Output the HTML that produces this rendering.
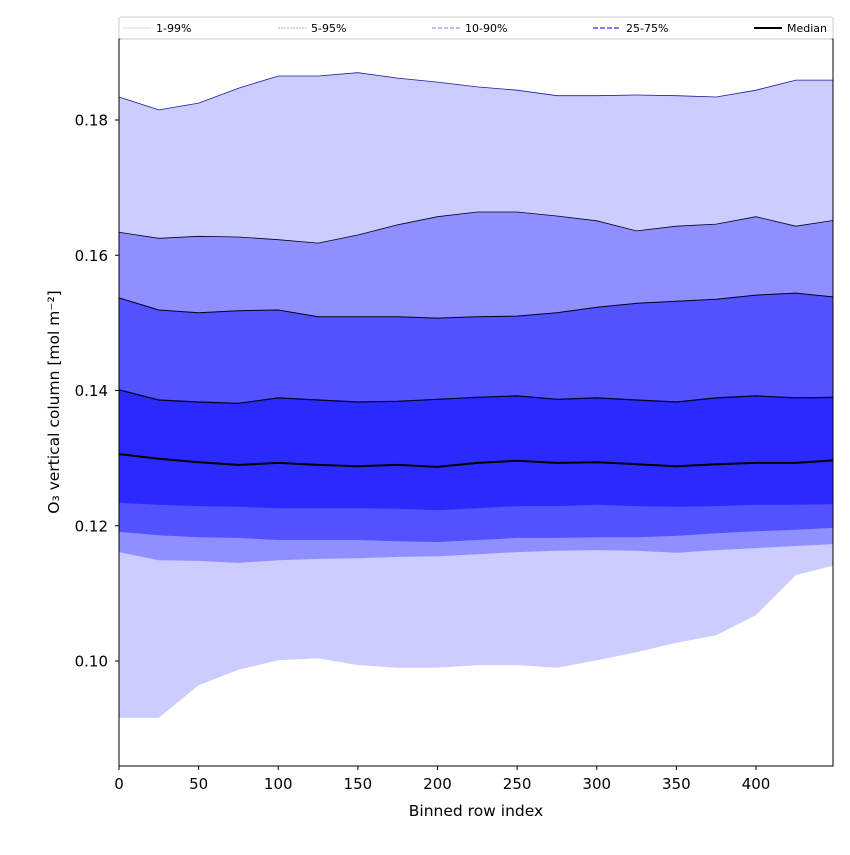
<!DOCTYPE html>
<html><head><meta charset="utf-8"><style>
body{margin:0;background:#fff;}
svg text{font-family:"DejaVu Sans","Liberation Sans",sans-serif;}
</style></head><body>
<svg id="chart" width="850" height="850" xmlns="http://www.w3.org/2000/svg">
<defs><clipPath id="clip"><rect x="119" y="39" width="714" height="727"/></clipPath></defs>
<rect width="850" height="850" fill="#fff"/>
<g id="bands" clip-path="url(#clip)"></g>
<g id="axes"></g>
</svg>
<script>
const xs=[0,25,50,75,100,125,150,175,200,225,250,275,300,325,350,375,400,425,450];
const p1=[0.0916,0.0916,0.0964,0.0987,0.1001,0.1004,0.0994,0.0990,0.0990,0.0994,0.0994,0.0990,0.1001,0.1013,0.1027,0.1038,0.1068,0.1127,0.1142];
const p99=[0.1834,0.1815,0.1825,0.1847,0.1865,0.1865,0.1870,0.1862,0.1856,0.1849,0.1844,0.1836,0.1836,0.1837,0.1836,0.1834,0.1844,0.1859,0.1859];
const p5=[0.1161,0.1149,0.1148,0.1145,0.1149,0.1151,0.1152,0.1154,0.1155,0.1158,0.1161,0.1163,0.1164,0.1163,0.1160,0.1164,0.1167,0.1170,0.1173];
const p95=[0.1634,0.1625,0.1628,0.1627,0.1623,0.1618,0.1630,0.1645,0.1657,0.1664,0.1664,0.1658,0.1651,0.1636,0.1643,0.1646,0.1657,0.1643,0.1652];
const p10=[0.1191,0.1186,0.1183,0.1182,0.1179,0.1179,0.1179,0.1177,0.1176,0.1179,0.1182,0.1182,0.1183,0.1183,0.1185,0.1189,0.1192,0.1194,0.1197];
const p90=[0.1537,0.1519,0.1515,0.1518,0.1519,0.1509,0.1509,0.1509,0.1507,0.1509,0.1510,0.1515,0.1523,0.1529,0.1532,0.1535,0.1541,0.1544,0.1538];
const p25=[0.1234,0.1231,0.1229,0.1228,0.1226,0.1226,0.1226,0.1225,0.1223,0.1226,0.1229,0.1229,0.1231,0.1229,0.1228,0.1229,0.1231,0.1231,0.1232];
const p75=[0.1401,0.1386,0.1383,0.1381,0.1389,0.1386,0.1383,0.1384,0.1387,0.1390,0.1392,0.1387,0.1389,0.1386,0.1383,0.1389,0.1392,0.1389,0.1390];
const median=[0.1306,0.1299,0.1294,0.1290,0.1293,0.1290,0.1288,0.1290,0.1287,0.1293,0.1296,0.1293,0.1294,0.1291,0.1288,0.1291,0.1293,0.1293,0.1297];
const xTicks=[0,50,100,150,200,250,300,350,400];
const yTicks=[0.10,0.12,0.14,0.16,0.18];

const NS="http://www.w3.org/2000/svg";
const X=v=>119+(v-0)*(756-119)/400;
const Y=v=>661-(v-0.10)*(661-120)/0.08;
function mk(tag,attrs,parent){const e=document.createElementNS(NS,tag);for(const k in attrs)e.setAttribute(k,attrs[k]);parent.appendChild(e);return e;}
const bands=document.getElementById('bands'),axes=document.getElementById('axes');
function linePts(arr){return xs.map((x,i)=>X(x).toFixed(1)+','+Y(arr[i]).toFixed(1));}
function band(lo,hi,fill,name){
  const pts=linePts(hi).concat(linePts(lo).reverse());
  const p=mk('polygon',{points:pts.join(' '),fill:fill},bands);
  
  
}
band(p1,p99,'#ccccff','band-1-99');
band(p5,p95,'#8f8fff','band-5-95');
band(p10,p90,'#5252ff','band-10-90');
band(p25,p75,'#2a2aff','band-25-75');
function line(arr,stroke,w,name){
  const p=mk('polyline',{points:linePts(arr).join(' '),fill:'none',stroke:stroke,'stroke-width':w},bands);
  
  
}
line(p99,'#1a1aa0',0.8,'line-p99');
line(p95,'#000020',0.8,'line-p95');
line(p90,'#000020',1,'line-p90');
line(p75,'#000020',1.2,'line-p75');
line(median,'#000',2,'median-line');

mk('rect',{x:119,y:39,width:714,height:727,fill:'none',stroke:'#000','stroke-width':1},axes);
xTicks.forEach(t=>{
  const x=X(t);
  mk('line',{x1:x,x2:x,y1:766,y2:770,stroke:'#000'},axes);
  const tx=mk('text',{x:x,y:789,'text-anchor':'middle','font-size':15},axes);tx.textContent=t;
  
  
});
yTicks.forEach(t=>{
  const y=Y(t);
  mk('line',{x1:115,x2:119,y1:y,y2:y,stroke:'#000'},axes);
  const tx=mk('text',{x:108,y:y+5.5,'text-anchor':'end','font-size':15},axes);tx.textContent=t.toFixed(2);
  
  
});
const xt=mk('text',{x:476,y:816,'text-anchor':'middle','font-size':15.5},axes);xt.textContent='Binned row index';


const yt=mk('text',{x:0,y:0,'text-anchor':'middle','font-size':15.5,transform:'translate(59,402) rotate(-90)'},axes);yt.textContent='O₃ vertical column [mol m⁻²]';



const lg=mk('g',{},axes);


mk('rect',{x:119,y:17,width:714,height:22,fill:'#fff',stroke:'#ccc','stroke-width':1,rx:2},lg);
const entries=[['1-99%',123,'#ccc',0.8,''],['5-95%',278,'#999',0.8,'2,1'],['10-90%',432,'#9999ee',1.2,'4,2'],['25-75%',593,'#5050ff',1.5,'5,2'],['Median',754,'#000',2,'']];
entries.forEach(e=>{
  const g=mk('g',{},lg);
  
  
  const a={x1:e[1],x2:e[1]+28,y1:28,y2:28,stroke:e[2],'stroke-width':e[3]};
  if(e[4])a['stroke-dasharray']=e[4];
  mk('line',a,g);
  const t=mk('text',{x:e[1]+33,y:32,'font-size':11},g);t.textContent=e[0];
});
</script>
</body></html>
